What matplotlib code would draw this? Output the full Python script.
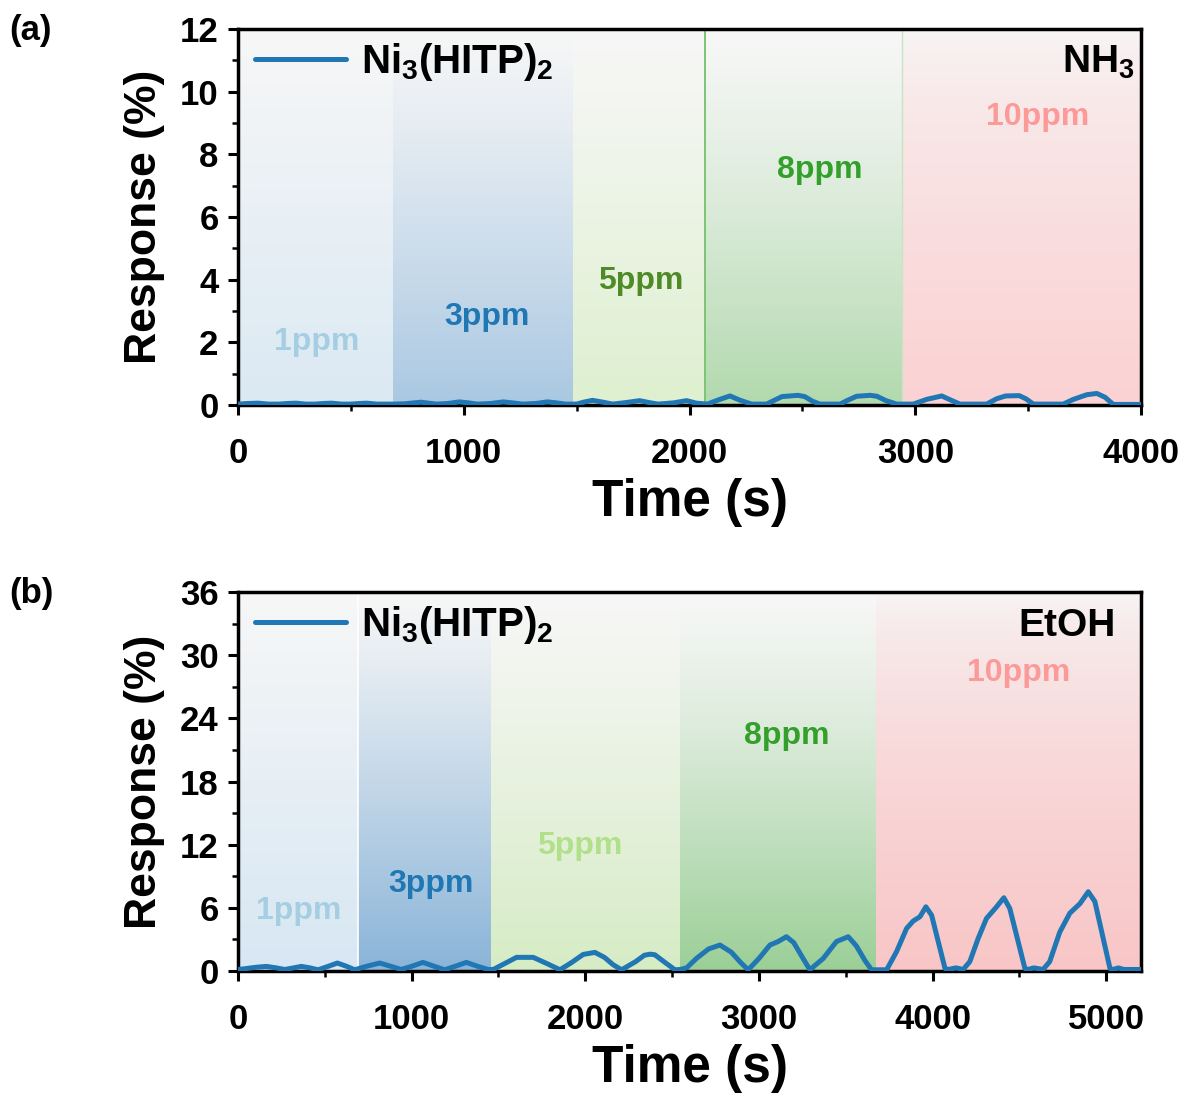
import numpy as np
import matplotlib
matplotlib.use("Agg")
import matplotlib.pyplot as plt
from matplotlib.colors import to_rgb

plt.rcParams['font.family'] = ['Liberation Sans', 'DejaVu Sans']
plt.rcParams['font.weight'] = 'bold'
plt.rcParams['mathtext.fontset'] = 'custom'
plt.rcParams['mathtext.rm'] = 'Liberation Sans:bold'
plt.rcParams['mathtext.it'] = 'Liberation Sans:bold'
plt.rcParams['mathtext.bf'] = 'Liberation Sans:bold'

# ---------------- data ----------------
conc_labels = ["1ppm", "3ppm", "5ppm", "8ppm", "10ppm"]

# (a) NH3
a_edges = [0, 687, 1484, 2069, 2941, 4000]
a_time = [0, 45, 89, 135, 180, 220, 258, 300, 340, 380, 414, 460, 500, 540, 570, 615, 690,
          740, 780, 811, 845, 880, 930, 980, 1020, 1060, 1120, 1175, 1215, 1260, 1320, 1370,
          1410, 1450, 1500, 1530, 1570, 1610, 1660, 1720, 1779, 1820, 1860, 1930, 1987, 2030,
          2079, 2130, 2179, 2225, 2275, 2342, 2375, 2410, 2480, 2510, 2545, 2578, 2667, 2700,
          2740, 2800, 2830, 2870, 2918, 2991, 3050, 3117, 3160, 3198, 3316, 3360, 3400, 3460,
          3490, 3523, 3655, 3700, 3760, 3804, 3840, 3877, 4000]
a_resp = [0.03, 0.05, 0.06, 0.03, 0.03, 0.05, 0.06, 0.03, 0.03, 0.05, 0.06, 0.03, 0.03, 0.05,
          0.06, 0.03, 0.03, 0.04, 0.07, 0.09, 0.06, 0.03, 0.05, 0.10, 0.07, 0.03, 0.05, 0.10,
          0.07, 0.03, 0.05, 0.10, 0.07, 0.03, 0.03, 0.09, 0.15, 0.10, 0.03, 0.08, 0.14, 0.08,
          0.03, 0.07, 0.14, 0.06, 0.03, 0.17, 0.29, 0.15, 0.03, 0.03, 0.15, 0.27, 0.31, 0.27,
          0.12, 0.03, 0.03, 0.15, 0.28, 0.31, 0.28, 0.14, 0.03, 0.03, 0.18, 0.29, 0.15, 0.03,
          0.03, 0.20, 0.29, 0.30, 0.20, 0.03, 0.03, 0.18, 0.33, 0.37, 0.25, 0.02, 0.02]

# (b) EtOH
b_edges = [0, 691, 1457, 2545, 3673, 5200]
b_time = [0, 30, 100, 163, 220, 269, 320, 365, 415, 461, 520, 572, 625, 672, 740, 816, 880,
          940, 1000, 1065, 1130, 1190, 1250, 1315, 1380, 1440, 1470, 1540, 1604, 1700, 1780,
          1854, 1920, 1988, 2055, 2110, 2160, 2209, 2290, 2340, 2372, 2400, 2460, 2516, 2545,
          2583, 2640, 2710, 2775, 2840, 2895, 2938, 3000, 3063, 3110, 3158, 3200, 3250, 3293,
          3370, 3446, 3514, 3560, 3610, 3648, 3735, 3792, 3850, 3888, 3927, 3961, 3994, 4032,
          4071, 4090, 4134, 4176, 4214, 4262, 4310, 4368, 4410, 4444, 4483, 4531, 4550, 4582,
          4636, 4674, 4732, 4790, 4848, 4896, 4934, 4982, 5021, 5040, 5069, 5100, 5200]
b_resp = [0.15, 0.2, 0.35, 0.44, 0.3, 0.15, 0.3, 0.44, 0.3, 0.12, 0.45, 0.76, 0.45, 0.12,
          0.45, 0.76, 0.45, 0.15, 0.45, 0.82, 0.45, 0.12, 0.45, 0.82, 0.45, 0.15, 0.15, 0.75,
          1.3, 1.3, 0.7, 0.12, 0.8, 1.58, 1.77, 1.3, 0.6, 0.12, 0.9, 1.5, 1.6, 1.55, 0.8, 0.12,
          0.15, 0.3, 1.2, 2.1, 2.47, 1.8, 0.8, 0.12, 1.2, 2.47, 2.8, 3.26, 2.7, 1.3, 0.12, 1.2,
          2.8, 3.26, 2.4, 1.0, 0.12, 0.12, 1.84, 4.05, 4.75, 5.16, 6.1, 5.3, 2.8, 0.25, 0.15,
          0.3, 0.15, 0.9, 3.1, 5.0, 6.1, 6.96, 5.95, 3.4, 0.25, 0.15, 0.3, 0.15, 0.9, 3.7, 5.5,
          6.4, 7.53, 6.6, 3.1, 0.25, 0.15, 0.3, 0.15, 0.15]

a_label_pos = [(350, 2.0), (1103, 2.8), (1785, 3.96), (2578, 7.5), (3544, 9.2)]
b_label_pos = [(351, 5.7), (1111, 8.3), (1969, 11.9), (3161, 22.3), (4496, 28.3)]

# ---------------- styles ----------------
line_color = '#2177b4'
a_band_colors = ['#dbe9f3', '#aac8e2', '#def0cf', '#b2d9ae', '#fbd2d3']
b_band_colors = ['#d7e7f3', '#8ab4d8', '#d6ecc5', '#9bcf97', '#f9c6c7']
a_text_colors = ['#a6cee3', '#1f78b4', '#4e8a26', '#33a02c', '#fb9a99']
b_text_colors = ['#a6cee3', '#1f78b4', '#b2df8a', '#33a02c', '#fb9a99']
top_color = '#f7f7f7'


def gradient_band(ax, x0, x1, ymax, bottom_color, gamma=1.0):
    n = 256
    frac = np.linspace(0, 1, n)[:, None] ** gamma  # 0 at top -> 1 at bottom
    c0 = np.array(to_rgb(top_color))
    c1 = np.array(to_rgb(bottom_color))
    img = c0[None, None, :] * (1 - frac[..., None]) + c1[None, None, :] * frac[..., None]
    ax.imshow(img, extent=[x0, x1, 0, ymax], aspect='auto', origin='upper',
              interpolation='bicubic', zorder=0)


fig = plt.figure(figsize=(11.87, 10.95), dpi=100)
ax_a = fig.add_axes([0.2005, 0.6301, 0.7608, 0.3434])
ax_b = fig.add_axes([0.2005, 0.1132, 0.7608, 0.3462])

panels = [
    dict(ax=ax_a, edges=a_edges, t=a_time, r=a_resp, xmax=4000, ymax=12, ymaj=2, ymin=1,
         bcols=a_band_colors, tcols=a_text_colors, lpos=a_label_pos, gas=r'$NH_3$',
         gasx=0.993, tag='(a)', gammas=[1.0, 1.1, 1.1, 1.2, 0.6], legy=0.912,
         sep=[(3, '#7cc474', 1.4), (4, '#c8e4c4', 1.0)]),
    dict(ax=ax_b, edges=b_edges, t=b_time, r=b_resp, xmax=5200, ymax=36, ymaj=6, ymin=3,
         bcols=b_band_colors, tcols=b_text_colors, lpos=b_label_pos, gas='EtOH',
         gasx=0.972, tag='(b)', gammas=[1.0, 1.1, 1.1, 1.2, 0.6], legy=0.913,
         sep=[(1, '#ffffff', 1.2)]),
]

for p in panels:
    ax = p['ax']
    edges = p['edges']
    ymax = p['ymax']
    xmax = p['xmax']
    for i in range(5):
        gradient_band(ax, edges[i], edges[i + 1], ymax, p['bcols'][i], p['gammas'][i])
    for idx, col, lw in p['sep']:
        ax.axvline(edges[idx], color=col, lw=lw, zorder=1)
    ax.plot(p['t'], p['r'], color=line_color, lw=3.6, label=r'$Ni_3(HITP)_2$', zorder=3,
            solid_joinstyle='round', solid_capstyle='round')
    ax.set_xlim(0, xmax)
    ax.set_ylim(0, ymax)
    ax.set_xticks(np.arange(0, xmax + 1, 1000))
    ax.set_xticks(np.arange(0, xmax + 1, 500), minor=True)
    ax.set_yticks(np.arange(0, ymax + 0.1, p['ymaj']))
    ax.set_yticks(np.arange(0, ymax + 0.1, p['ymin']), minor=True)
    ax.tick_params(which='major', direction='out', length=7, width=2.2, labelsize=25)
    ax.tick_params(axis='x', which='major', pad=16)
    ax.tick_params(axis='y', which='major', pad=7)
    ax.tick_params(which='minor', direction='out', length=4, width=1.8)
    for lab in ax.get_xticklabels() + ax.get_yticklabels():
        lab.set_fontweight('bold')
    for s in ax.spines.values():
        s.set_linewidth(2.5)
    ax.set_xlabel('Time (s)', fontsize=37, fontweight='bold', labelpad=6)
    ax.set_ylabel('Response (%)', fontsize=32, fontweight='bold', labelpad=11)
    for i, (lx, ly) in enumerate(p['lpos']):
        ax.text(lx, ly, conc_labels[i], color=p['tcols'][i], fontsize=23, fontweight='bold',
                ha='center', va='center', zorder=4)
    ax.text(p['gasx'], 1 - 44 / 376, p['gas'], transform=ax.transAxes, ha='right',
            va='baseline', fontsize=28, zorder=4)
    ax.legend(loc='center left', bbox_to_anchor=(0.019, p['legy']), frameon=False,
              fontsize=29, handlelength=2.25, handletextpad=0.37, borderpad=0,
              borderaxespad=0)
    pos = ax.get_position()
    fig.text(0.008, pos.y1 - 0.001, p['tag'], fontsize=25, fontweight='bold', ha='left',
             va='center')

fig.savefig('out.png', dpi=100)
